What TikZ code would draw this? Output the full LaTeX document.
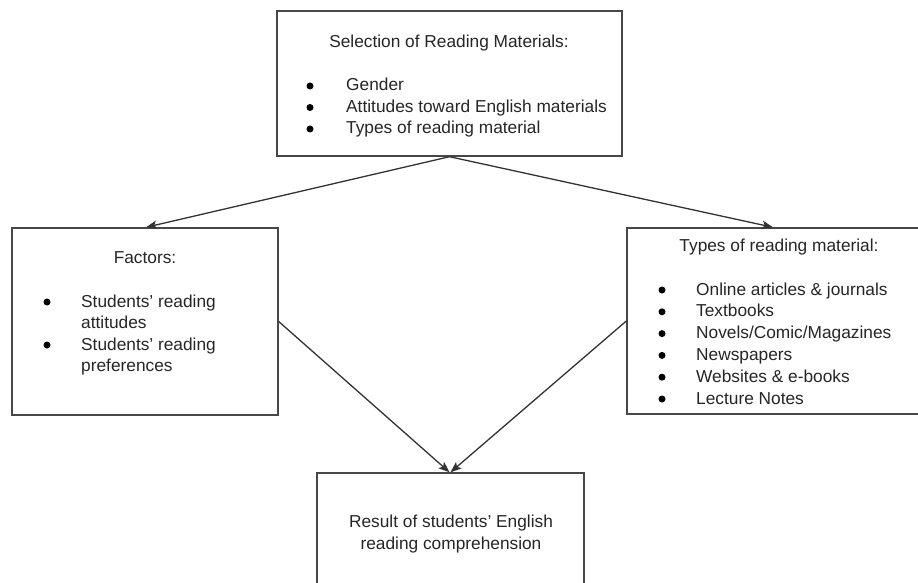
\documentclass[tikz,border=0pt]{standalone}
\usepackage{fontspec}
\setmainfont{Liberation Sans}
\usetikzlibrary{arrows.meta}
\definecolor{boxline}{HTML}{474747}
\definecolor{txt}{HTML}{262626}
\begin{document}
\begin{tikzpicture}[x=1pt,y=-1pt,
  box/.style={draw=boxline,line width=1.4pt,minimum width=#1,inner sep=0pt},
  ln/.style={anchor=base west,inner sep=0pt,text=txt,font=\fontsize{17.3}{21.5}\selectfont},
  ttl/.style={anchor=base,inner sep=0pt,text=txt,font=\fontsize{17.3}{21.5}\selectfont},
  arr/.style={draw=black!80,line width=1.3pt,-{Stealth[length=11pt,width=8.5pt,inset=2.5pt]}},
  bul/.style={fill=black}]
\useasboundingbox (0,0) rectangle (918,583);
\clip (0,0) rectangle (918,583);
\fill[white] (0,0) rectangle (918,583);
% boxes
\node[box=345pt,minimum height=145pt] (top) at (449.5,83.5) {};
\node[box=266pt,minimum height=187pt] (left) at (145,321.5) {};
\node[box=308pt,minimum height=186pt] (right) at (781,321) {};
\node[box=267pt,minimum height=127pt] (bot) at (450.5,536.5) {};
% top text
\node[ttl] (t0) at (449,48) {Selection of Reading Materials:};
\node[ln] (t1) at (346,91) {Gender};
\node[ln] (t2) at (346,112.5) {Attitudes toward English materials};
\node[ln] (t3) at (346,134) {Types of reading material};
\foreach \y in {91,112.5,134} \fill[bul] (310,\y-5) circle (3.5);
% left text
\node[ttl] (l0) at (145,263) {Factors:};
\node[ln] (l1) at (81,307) {Students’ reading};
\node[ln] (l2) at (81,328.5) {attitudes};
\node[ln] (l3) at (81,350) {Students’ reading};
\node[ln] (l4) at (81,371.5) {preferences};
\foreach \y in {307,350} \fill[bul] (47,\y-5) circle (3.5);
% right text
\node[ttl] (r0) at (779,251) {Types of reading material:};
\node[ln] (r1) at (696,295) {Online articles \& journals};
\node[ln] (r2) at (696,316.8) {Textbooks};
\node[ln] (r3) at (696,338.6) {Novels/Comic/Magazines};
\node[ln] (r4) at (696,360.4) {Newspapers};
\node[ln] (r5) at (696,382.2) {Websites \& e-books};
\node[ln] (r6) at (696,404) {Lecture Notes};
\foreach \y in {295,316.8,338.6,360.4,382.2,404} \fill[bul] (662,\y-5) circle (3.5);
% bottom text
\node[ttl] (b1) at (451,527) {Result of students’ English};
\node[ttl] (b2) at (451,549) {reading comprehension};
% connectors
\draw[arr] (top.south) -- ([xshift=1pt]left.north);
\draw[arr] (top.south) -- ([xshift=-8pt]right.north);
\draw[arr] (left.east) -- ([xshift=-1pt]bot.north);
\draw[arr] (right.west) -- ([xshift=0pt]bot.north);
\end{tikzpicture}
\end{document}
